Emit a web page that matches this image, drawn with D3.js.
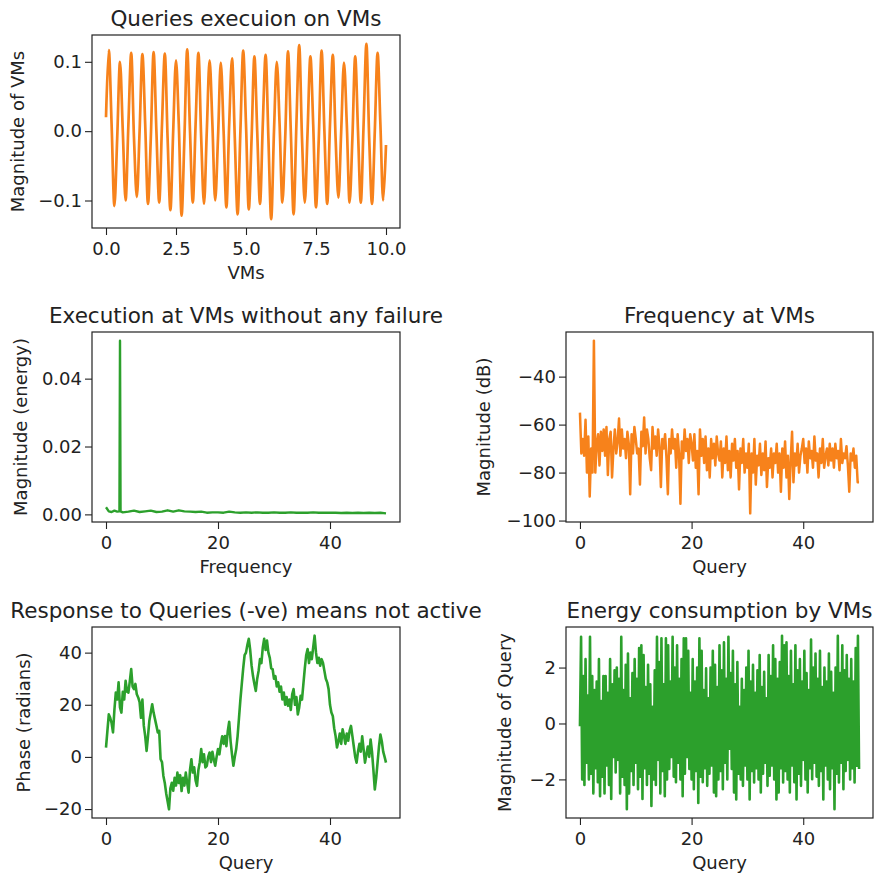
<!DOCTYPE html>
<html>
<head>
<meta charset="utf-8">
<script src="https://cdnjs.cloudflare.com/ajax/libs/d3/7.8.5/d3.min.js"></script>
<style>
  body { margin: 0; background: #fff; }
  text { font-family: "DejaVu Sans", sans-serif; fill: #222; }
</style>
</head>
<body>
<div id="chart"></div>
<script>
// ---- data ----

// top: time signal, one sample every 0.1 s (peak / zero / trough / zero ...)
var vmStep = 0.1;
var vmSignal = [
  0.02,
  0.117, 0.01, -0.108, -0.01,  0.100, 0.00, -0.100, 0.01,  0.113, -0.01, -0.095, 0.00,
  0.111, 0.01, -0.105, -0.01,  0.114, 0.00, -0.103, 0.01,  0.112, -0.01, -0.114, 0.00,
  0.102, 0.01, -0.122, -0.01,  0.118, 0.00, -0.103, 0.01,  0.113, -0.01, -0.105, 0.00,
  0.102, 0.01, -0.100, -0.01,  0.099, 0.00, -0.110, 0.01,  0.105, -0.01, -0.120, 0.00,
  0.116, 0.01, -0.113, -0.01,  0.108, 0.00, -0.105, 0.01,  0.110, -0.01, -0.127, 0.00,
  0.100, 0.01, -0.103, -0.01,  0.115, 0.00, -0.120, 0.01,  0.124, -0.01, -0.103, 0.00,
  0.108, 0.01, -0.110, -0.01,  0.116, 0.00, -0.105, 0.01,  0.110, -0.01, -0.096, 0.00,
  0.099, 0.01, -0.103, -0.01,  0.108, 0.00, -0.103, 0.01,  0.126, -0.01, -0.105, 0.00,
  0.113, 0.01, -0.100, -0.02
];

// middle left: energy spectrum
var energyFreq = [0, 0.5, 1, 1.5, 2, 2.4, 2.5, 2.6, 3, 4, 5, 6, 7, 8, 9, 10, 11, 12, 13, 14, 15,
  16, 17, 18, 19, 20, 21, 22, 23, 24, 25, 26, 27, 28, 29, 30, 31, 32, 33, 34, 35,
  36, 37, 38, 39, 40, 41, 42, 43, 44, 45, 46, 47, 48, 49, 50];
var energyMag = [0.0021, 0.0009, 0.0007, 0.0011, 0.0008, 0.0009, 0.0512, 0.0009, 0.0006, 0.0008,
  0.0011, 0.0007, 0.0009, 0.0011, 0.0007, 0.0008, 0.0012, 0.0008, 0.0012, 0.0009, 0.0008,
  0.0007, 0.0008, 0.0005, 0.0006, 0.0006, 0.0005, 0.0008, 0.0006, 0.0005, 0.0006,
  0.0005, 0.0006, 0.0005, 0.0005, 0.0006, 0.0005, 0.0005, 0.0006, 0.0005, 0.0005,
  0.0005, 0.0006, 0.0005, 0.0005, 0.0005, 0.0005, 0.0004, 0.0005, 0.0004, 0.0005,
  0.0004, 0.0005, 0.0004, 0.0005, 0.0003];

// middle right: magnitude in dB, every 0.25
var dbStep = 0.25;
var dbValues = [
  -55, -72, -66, -73, -58, -80, -65, -90, -70, -80, -25, -80, -68, -64, -77, -63, -71, -62, -73, -61,
  -81, -66, -63, -82, -70, -62, -72, -67, -57.5, -73, -62, -70, -66, -74, -63, -68, -89, -64, -72, -61,
  -66, -72, -70, -85, -63, -69, -57, -72, -62, -66, -74, -79, -61, -70, -65, -73, -62, -69, -86, -66,
  -70, -64, -74, -89, -66, -72, -62, -70, -66, -78, -64, -72, -93, -67, -74, -62, -71, -66, -76, -64,
  -68, -75, -64, -78, -71, -89, -62, -73, -66, -76, -65, -79, -70, -82, -66, -74, -68, -77, -65, -72,
  -75, -67, -82, -70, -76, -65, -79, -71, -82, -68, -75, -66, -78, -71, -87, -70, -76, -66, -80, -72,
  -78, -68, -97, -72, -80, -66, -85, -73, -77, -68, -81, -72, -79, -67, -86, -74, -78, -70, -82, -72,
  -76, -68, -80, -72, -88, -70, -78, -67, -82, -73, -91, -75, -63, -84, -72, -77, -68, -80, -73, -70,
  -66, -76, -70, -80, -67, -74, -71, -78, -65, -75, -72, -82, -70, -76, -66, -78, -73, -70, -77, -68,
  -75, -70, -78, -68, -74, -71, -79, -66, -76, -72, -74, -69, -77, -88, -72, -75, -70, -78, -73, -84,
  -84
];

// bottom left: phase, every 0.25
var phaseStep = 0.25;
var phaseValues = [
  3.6, 10, 16.3, 15, 13, 9.4, 18, 24.7, 22, 28.6, 19, 17, 25, 22, 29.2, 25, 24.7, 29, 33.7, 27,
  26, 28, 24, 22.8, 21, 15, 22, 12, 8, 2.3, 8, 14, 17, 20.2, 17, 14.5, 12, 9.4, 10, -0.9,
  -2, -7.3, -10, -14, -17, -20.1, -12, -9.9, -13, -8, -11, -6, -10, -7, -13.1, -8, -11, -6, -10, -13.7,
  -5, -0.9, -6, -4, -9, -11.1, -5, -2, 3, -2, 1, -4, -3.4, 0, 1.7, -2, 2, -1, -3.4, 0,
  3, 1, 5, 7.9, 5, 8, 4.1, 10, 13.5, 6, 1, -3.4, 0, 3, 8, 15, 22, 28, 34, 39,
  40, 43, 45.3, 41, 35, 31, 28, 25.3, 30, 33, 37.5, 36, 42, 45.3, 41, 44.6, 40, 38, 34, 33.7,
  30, 31, 27, 28.6, 25, 27, 22, 24.7, 20, 23, 19.6, 22, 18, 24, 26, 20, 23, 16.3, 19, 23.4,
  22, 28, 34, 39, 41.4, 36, 40, 37.5, 42, 46.5, 40, 36, 38, 35, 37.5, 36, 33, 30, 28.6, 26,
  20, 17, 15.7, 11, 8, 3.6, 6, 9, 5, 10.6, 8, 5, 9, 6.2, 10, 11.9, 8, 4, 0, -2.2,
  2, 5, 2, 7.9, 3, -2.2, 1, 4, 0, 6.7, 2, -5, -12.5, -8, -2, 4, 8.6, 6, 2, 0,
  -2.2
];

// bottom right: wrapped phase, every 0.2
var queryStep = 0.2;
var queryValues = [
  -0.1, 3.1, -2.0, 1.7, -2.2, 2.3, -1.4, 1.0, -2.0, 3.1, -1.8, 1.7, -2.5, 1.2, -1.6, 1.5, -2.1, 2.3, -2.6, 0.8,
  -1.9, 1.7, -2.5, 1.7, -1.5, 1.1, -2.2, 2.3, -2.7, 1.4, -1.2, 1.9, -1.75, 2.0, -1.3, 1.6, -2.5, 3.1, -1.9, 1.2,
  -2.2, 2.1, -3.07, 2.5, -2.5, 0.9, -1.7, 1.8, -2.2, 2.3, -1.4, 1.6, -2.35, 2.7, -1.9, 2.8, -2.7, 2.45, -1.6, 1.3,
  -2.2, 2.1, -1.8, 1.4, -2.95, 0.6, -2.0, 1.9, -2.2, 3.1, -1.3, 2.2, -2.5, 3.05, -1.7, 1.4, -2.6, 3.05, -2.0, 2.8,
  -1.63, 1.5, -1.2, 3.1, -1.9, 2.0, -2.1, 2.8, -1.4, 1.6, -2.0, 2.3, -2.6, 3.05, -1.8, 3.05, -1.2, 2.6, -1.63, 1.1,
  -2.0, 2.3, -2.35, 1.5, -1.7, 2.0, -2.84, 3.05, -1.9, 2.6, -2.1, 1.2, -1.6, 1.97, -2.23, 0.9, -1.8, 2.0, -1.5, 2.6,
  -2.47, 2.1, -2.6, 1.3, -2.0, 2.8, -1.7, 1.9, -2.35, 2.9, -1.4, 1.6, -2.0, 3.1, -0.9, 1.8, -1.63, 2.6, -2.47, 1.4,
  -2.72, 2.2, -1.8, 0.6, -2.0, 1.6, -2.23, 1.2, -1.5, 2.0, -2.0, 2.6, -2.72, 1.5, -1.7, 2.1, -2.11, 1.1, -1.6, 1.9,
  -2.0, 2.45, -2.47, 1.3, -1.8, 1.85, -1.4, 0.9, -2.23, 2.45, -1.87, 1.7, -1.5, 2.8, -2.0, 2.3, -2.72, 1.6, -2.47, 2.2,
  -1.6, 3.14, -2.11, 2.8, -1.7, 2.9, -2.0, 1.7, -2.47, 2.6, -1.5, 1.4, -2.1, 2.8, -2.72, 1.9, -1.8, 2.3, -2.23, 1.5,
  -1.3, 2.6, -2.0, 1.8, -2.47, 1.2, -1.6, 3.0, -1.99, 2.0, -1.4, 2.5, -1.9, 1.6, -2.23, 2.6, -1.7, 1.3, -2.72, 2.0,
  -1.5, 1.5, -2.0, 2.5, -2.35, 1.85, -1.6, 1.1, -3.07, 2.0, -1.8, 3.14, -2.11, 1.8, -1.4, 2.8, -2.35, 1.9, -1.7, 2.45,
  -1.3, 1.6, -2.0, 2.3, -1.6, 1.5, -2.11, 2.7, -1.51, 3.14, -1.63
];

// ticks
var vmXTicks = [0, 2.5, 5, 7.5, 10];
var vmXLabels = ["0.0", "2.5", "5.0", "7.5", "10.0"];
var vmYTicks = [-0.1, 0, 0.1];
var vmYLabels = ["\u22120.1", "0.0", "0.1"];
var queryXTicks = [0, 20, 40];
var queryXLabels = ["0", "20", "40"];
var energyYTicks = [0, 0.02, 0.04];
var energyYLabels = ["0.00", "0.02", "0.04"];
var dbYTicks = [-100, -80, -60, -40];
var dbYLabels = ["\u2212100", "\u221280", "\u221260", "\u221240"];
var phaseYTicks = [-20, 0, 20, 40];
var phaseYLabels = ["\u221220", "0", "20", "40"];
var queryYTicks = [-2, 0, 2];
var queryYLabels = ["\u22122", "0", "2"];

var orange = "#f7821b";
var green = "#2ca02c";

var svg = d3.select("#chart").append("svg")
  .attr("width", 875)
  .attr("height", 878)
  .style("background", "#fff");

// matplotlib style 5% margins
function padded(ext) {
  var r = ext[1] - ext[0];
  return [ext[0] - 0.05 * r, ext[1] + 0.05 * r];
}

function drawPanel(o) {
  var g = svg.append("g");
  var b = o.box;
  var x = d3.scaleLinear().domain(padded(d3.extent(o.points, d => d[0]))).range([b.x0, b.x1]);
  var y = d3.scaleLinear().domain(padded(d3.extent(o.points, d => d[1]))).range([b.y1, b.y0]);

  var line = d3.line()
    .x(d => x(d[0]))
    .y(d => y(d[1]))
    .curve(o.curve || d3.curveLinear);

  g.append("path")
    .datum(o.points)
    .attr("d", line)
    .attr("fill", "none")
    .attr("stroke", o.color)
    .attr("stroke-width", o.width)
    .attr("stroke-linejoin", "round");

  g.append("rect")
    .attr("x", b.x0).attr("y", b.y0)
    .attr("width", b.x1 - b.x0).attr("height", b.y1 - b.y0)
    .attr("fill", "none").attr("stroke", "#222").attr("stroke-width", 1.2);

  var xa = d3.axisBottom(x).tickValues(o.xTicks)
    .tickFormat((d, i) => o.xLabels[i]).tickSize(7).tickPadding(7);
  var ya = d3.axisLeft(y).tickValues(o.yTicks)
    .tickFormat((d, i) => o.yLabels[i]).tickSize(7).tickPadding(3);

  g.append("g").attr("transform", "translate(0," + b.y1 + ")").call(xa)
    .call(a => a.select(".domain").remove());
  g.append("g").attr("transform", "translate(" + b.x0 + ",0)").call(ya)
    .call(a => a.select(".domain").remove());
  g.selectAll(".tick text").attr("font-size", 18).attr("font-family", "DejaVu Sans").attr("fill", "#222");
  g.selectAll(".tick line").attr("stroke", "#222").attr("stroke-width", 1.1);

  g.append("text")
    .attr("x", (b.x0 + b.x1) / 2).attr("y", b.y0 - 9.5)
    .attr("text-anchor", "middle").attr("font-size", 21.5)
    .text(o.title);

  g.append("text")
    .attr("x", (b.x0 + b.x1) / 2).attr("y", b.y1 + 51)
    .attr("text-anchor", "middle").attr("font-size", 18)
    .text(o.xTitle);

  g.append("text")
    .attr("transform", "translate(" + o.yTitleX + "," + (b.y0 + b.y1) / 2 + ") rotate(-90)")
    .attr("text-anchor", "middle").attr("font-size", 18)
    .text(o.yTitle);
}

drawPanel({
  box: {x0: 92, x1: 400, y0: 35, y1: 228},
  points: vmSignal.map((v, i) => [i * vmStep, v]),
  color: orange, width: 2.7, curve: d3.curveCatmullRom,
  xTicks: vmXTicks, xLabels: vmXLabels, yTicks: vmYTicks, yLabels: vmYLabels,
  title: "Queries execuion on VMs", xTitle: "VMs", yTitle: "Magnitude of VMs", yTitleX: 24
});

drawPanel({
  box: {x0: 92, x1: 400, y0: 332, y1: 522},
  points: energyFreq.map((f, i) => [f, energyMag[i]]),
  color: green, width: 2.4,
  xTicks: queryXTicks, xLabels: queryXLabels, yTicks: energyYTicks, yLabels: energyYLabels,
  title: "Execution at VMs without any failure", xTitle: "Frequency", yTitle: "Magnitude (energy)", yTitleX: 27
});

drawPanel({
  box: {x0: 566, x1: 873, y0: 332, y1: 522},
  points: dbValues.map((v, i) => [i * dbStep, v]),
  color: orange, width: 2.5,
  xTicks: queryXTicks, xLabels: queryXLabels, yTicks: dbYTicks, yLabels: dbYLabels,
  title: "Frequency at VMs", xTitle: "Query", yTitle: "Magnitude (dB)", yTitleX: 490
});

drawPanel({
  box: {x0: 92, x1: 400, y0: 627, y1: 818},
  points: phaseValues.map((v, i) => [i * phaseStep, v]),
  color: green, width: 2.6,
  xTicks: queryXTicks, xLabels: queryXLabels, yTicks: phaseYTicks, yLabels: phaseYLabels,
  title: "Response to Queries (-ve) means not active", xTitle: "Query", yTitle: "Phase (radians)", yTitleX: 30
});

drawPanel({
  box: {x0: 566, x1: 873, y0: 627, y1: 818},
  points: queryValues.map((v, i) => [i * queryStep, v]),
  color: green, width: 2.6,
  xTicks: queryXTicks, xLabels: queryXLabels, yTicks: queryYTicks, yLabels: queryYLabels,
  title: "Energy consumption by VMs", xTitle: "Query", yTitle: "Magnitude of Query", yTitleX: 511
});
</script>
</body>
</html>
